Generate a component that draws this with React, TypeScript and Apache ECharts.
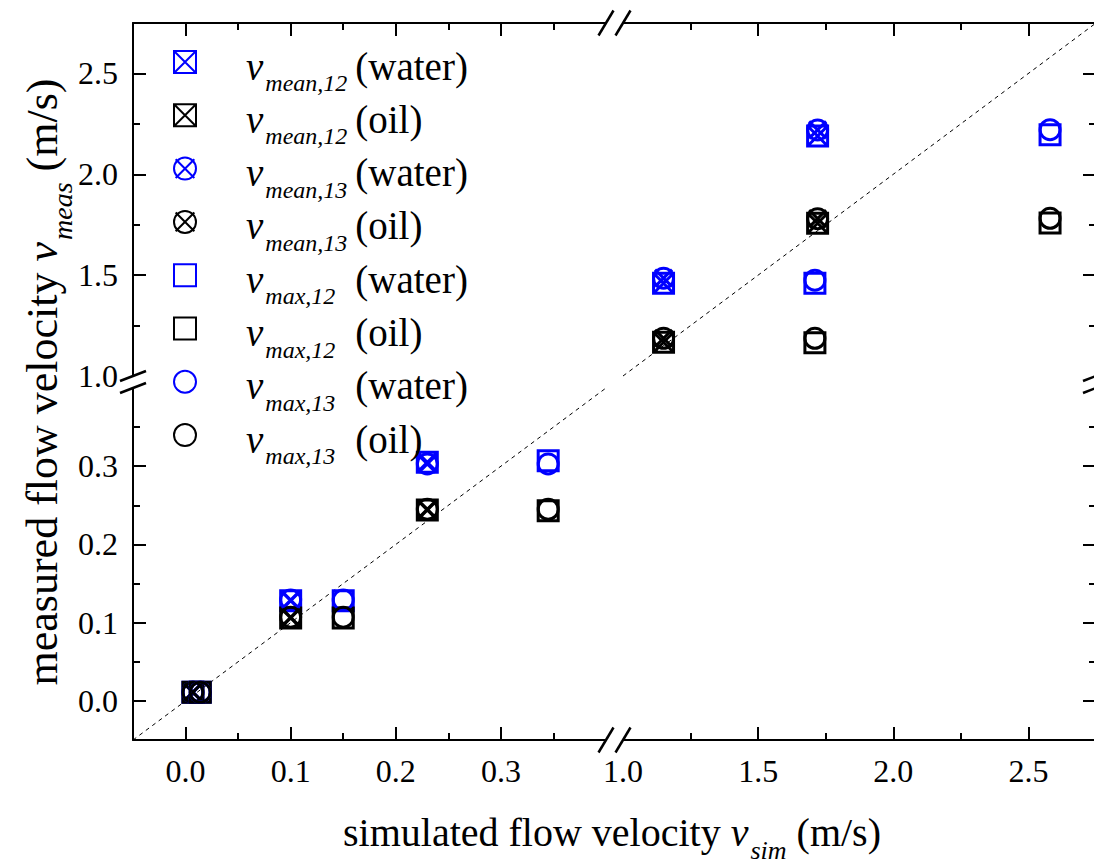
import React, { useEffect, useRef } from 'react';
import * as echarts from 'echarts';

// ---- data ----
const simMean = [0.007, 0.1, 0.23, 1.15, 1.72];
const simMax = [0.014, 0.15, 0.345, 1.71, 2.58];

const meanWater12 = [0.011, 0.128, 0.305, 1.46, 2.19];
const meanOil12 = [0.011, 0.106, 0.244, 1.167, 1.757];
const meanWater13 = [0.011, 0.129, 0.303, 1.485, 2.22];
const meanOil13 = [0.011, 0.107, 0.245, 1.187, 1.78];
const maxWater12 = [0.011, 0.128, 0.307, 1.46, 2.196];
const maxOil12 = [0.011, 0.106, 0.243, 1.165, 1.758];
const maxWater13 = [0.011, 0.129, 0.303, 1.475, 2.221];
const maxOil13 = [0.011, 0.107, 0.245, 1.187, 1.782];

const lowRange = [-0.05, 0.4];
const highRange = [1.0, 2.75];
const lowMajor = [0, 0.1, 0.2, 0.3];
const lowMinor = [0.05, 0.15, 0.25, 0.35];
const highMajorTicks = [1.5, 2.0, 2.5];
const highLabels = [1.0, 1.5, 2.0, 2.5];
const highMinor = [1.25, 1.75, 2.25];
const diagLow = [-0.05, 0.4162];
const diagHigh = [1.0, 2.75];

const BLUE = '#0000ff';
const BLACK = '#000000';
const FONT = 'Liberation Serif';

const SQX = 'path://M0,0L20,0L20,20L0,20Z M0,0L20,20 M20,0L0,20';
const CIRX = 'path://M10,0A10,10,0,1,1,10,20A10,10,0,1,1,10,0Z M1.5,1.5L18.5,18.5 M18.5,1.5L1.5,18.5';
const SQ = 'path://M0,0L20,0L20,20L0,20Z';
const CIR = 'path://M10,0A10,10,0,1,1,10,20A10,10,0,1,1,10,0Z';

const seriesDefs = [
  { name: 'vmean12water', sub: 'mean,12', tail: '(water)', color: BLUE, symbol: SQX, x: simMean, y: meanWater12 },
  { name: 'vmean12oil', sub: 'mean,12', tail: '(oil)', color: BLACK, symbol: SQX, x: simMean, y: meanOil12 },
  { name: 'vmean13water', sub: 'mean,13', tail: '(water)', color: BLUE, symbol: CIRX, x: simMean, y: meanWater13 },
  { name: 'vmean13oil', sub: 'mean,13', tail: '(oil)', color: BLACK, symbol: CIRX, x: simMean, y: meanOil13 },
  { name: 'vmax12water', sub: 'max,12', tail: '(water)', color: BLUE, symbol: SQ, x: simMax, y: maxWater12 },
  { name: 'vmax12oil', sub: 'max,12', tail: '(oil)', color: BLACK, symbol: SQ, x: simMax, y: maxOil12 },
  { name: 'vmax13water', sub: 'max,13', tail: '(water)', color: BLUE, symbol: CIR, x: simMax, y: maxWater13 },
  { name: 'vmax13oil', sub: 'max,13', tail: '(oil)', color: BLACK, symbol: CIR, x: simMax, y: maxOil13 },
];

const GRIDS = [
  { left: 133, top: 388, width: 473, height: 352, outerBoundsMode: 'none' }, // lower-left
  { left: 623, top: 388, width: 473, height: 352, outerBoundsMode: 'none' }, // lower-right
  { left: 133, top: 23, width: 473, height: 353, outerBoundsMode: 'none' }, // upper-left
  { left: 623, top: 23, width: 473, height: 353, outerBoundsMode: 'none' }, // upper-right
];

const fmt = (v: number) => Number(v).toFixed(1);

function axis(gridIndex: number, position: string, range: number[], ticks: number[], labels: number[] | null, minor: boolean) {
  const showLine = !minor && position !== 'right';
  return {
    type: 'value',
    gridIndex,
    position,
    min: range[0],
    max: range[1],
    scale: true,
    axisLine: { show: showLine, onZero: false, lineStyle: { color: BLACK, width: 2 } },
    axisTick: {
      show: true,
      inside: true,
      length: minor ? 7 : 13,
      customValues: ticks,
      lineStyle: { color: BLACK, width: 2 },
    },
    axisLabel: labels
      ? {
          show: true,
          customValues: labels,
          formatter: fmt,
          fontFamily: FONT,
          fontSize: 32,
          color: BLACK,
          margin: 15,
        }
      : { show: false },
    splitLine: { show: false },
    minorTick: { show: false },
  };
}

export default function App() {
  const ref = useRef<HTMLDivElement>(null);
  useEffect(() => {
    if (!ref.current) return;
    const chart = echarts.init(ref.current, null, { renderer: 'svg' });

    const xAxis = [
      axis(0, 'bottom', lowRange, lowMajor, lowMajor, false),
      axis(1, 'bottom', highRange, highMajorTicks, highLabels, false),
      axis(2, 'top', lowRange, lowMajor, null, false),
      axis(3, 'top', highRange, highMajorTicks, null, false),
      axis(4, 'bottom', lowRange, lowMinor, null, true),
      axis(5, 'bottom', highRange, highMinor, null, true),
      axis(6, 'top', lowRange, lowMinor, null, true),
      axis(7, 'top', highRange, highMinor, null, true),
    ];
    const yAxis = [
      axis(0, 'left', lowRange, lowMajor, lowMajor, false),
      axis(1, 'right', lowRange, lowMajor, null, false),
      axis(2, 'left', highRange, highMajorTicks, highLabels, false),
      axis(3, 'right', highRange, highMajorTicks, null, false),
      axis(4, 'left', lowRange, lowMinor, null, true),
      axis(5, 'right', lowRange, lowMinor, null, true),
      axis(6, 'left', highRange, highMinor, null, true),
      axis(7, 'right', highRange, highMinor, null, true),
    ];

    const series: any[] = [
      {
        type: 'line',
        xAxisIndex: 0,
        yAxisIndex: 0,
        data: diagLow.map((v) => [v, v]),
        symbol: 'none',
        clip: false,
        silent: true,
        z: 1,
        lineStyle: { color: BLACK, width: 1, type: [4, 4] },
      },
      {
        type: 'line',
        xAxisIndex: 3,
        yAxisIndex: 3,
        data: diagHigh.map((v) => [v, v]),
        symbol: 'none',
        clip: false,
        silent: true,
        z: 1,
        lineStyle: { color: BLACK, width: 1, type: [4, 4] },
      },
    ];
    seriesDefs.forEach((d) => {
      const pts = d.x.map((xv, i) => [xv, d.y[i]]);
      const common = {
        type: 'scatter',
        name: d.name,
        symbol: d.symbol,
        symbolSize: 20,
        clip: false,
        z: 3,
        itemStyle: { color: 'rgba(0,0,0,0)', borderColor: d.color, borderWidth: 3, opacity: 1 },
      };
      series.push({ ...common, xAxisIndex: 0, yAxisIndex: 0, data: pts.filter((p) => p[0] < 1) });
      series.push({ ...common, xAxisIndex: 3, yAxisIndex: 3, data: pts.filter((p) => p[0] >= 1) });
    });

    const lookup: Record<string, any> = {};
    seriesDefs.forEach((d) => (lookup[d.name] = d));

    const slashes: any[] = [];
    [133, 1096].forEach((x) =>
      [376, 388].forEach((y) =>
        slashes.push({
          type: 'line',
          shape: { x1: x - 13, y1: y + 5, x2: x + 13, y2: y - 5 },
          style: { stroke: BLACK, lineWidth: 2.5 },
          z: 10,
        })
      )
    );
    [740, 23].forEach((y) =>
      [606, 623].forEach((x) =>
        slashes.push({
          type: 'line',
          shape: { x1: x - 7.5, y1: y + 12.5, x2: x + 7.5, y2: y - 12.5 },
          style: { stroke: BLACK, lineWidth: 2.5 },
          z: 10,
        })
      )
    );

    const xTitleRich = {
      a: { fontFamily: FONT, fontSize: 40, lineHeight: 44, color: BLACK },
      v: { fontFamily: FONT, fontSize: 40, fontStyle: 'italic', lineHeight: 44, color: BLACK },
      s: { fontFamily: FONT, fontSize: 26, fontStyle: 'italic', lineHeight: 26, padding: [36, 0, 0, 2], color: BLACK },
    };
    const yTitleRich = {
      a: { fontFamily: FONT, fontSize: 44, lineHeight: 46, color: BLACK },
      v: { fontFamily: FONT, fontSize: 44, fontStyle: 'italic', lineHeight: 46, color: BLACK },
      s: { fontFamily: FONT, fontSize: 28, fontStyle: 'italic', lineHeight: 28, padding: [40, 0, 0, 2], color: BLACK },
    };

    chart.setOption({
      animation: false,
      backgroundColor: '#ffffff',
      grid: [...GRIDS, ...GRIDS],
      xAxis,
      yAxis,
      legend: {
        data: seriesDefs.map((d) => d.name),
        orient: 'vertical',
        left: 173,
        top: 29,
        padding: 0,
        itemGap: -12.7,
        itemWidth: 22,
        itemHeight: 22,
        selectedMode: false,
        formatter: (name: string) => {
          const d = lookup[name];
          return `{v|v}{s|${d.sub}}{t|${d.tail}}`;
        },
        textStyle: {
          color: BLACK,
          rich: {
            v: { fontFamily: FONT, fontStyle: 'italic', fontSize: 39, lineHeight: 40, padding: [8, 0, 0, 45], color: BLACK },
            s: { fontFamily: FONT, fontStyle: 'italic', fontSize: 24, lineHeight: 24, padding: [42, 0, 0, 2], width: 90, color: BLACK },
            t: { fontFamily: FONT, fontSize: 39, lineHeight: 40, padding: [8, 0, 0, 0], color: BLACK },
          },
        },
      },
      graphic: [
        ...slashes,
        {
          type: 'text',
          x: 612,
          y: 832,
          style: {
            text: '{a|simulated flow velocity }{v|v}{s|sim}{a| (m/s)}',
            rich: xTitleRich,
            align: 'center',
            verticalAlign: 'middle',
          },
        },
        {
          type: 'text',
          x: 42,
          y: 382,
          rotation: Math.PI / 2,
          style: {
            text: '{a|measured flow velocity }{v|v}{s|meas}{a| (m/s)}',
            rich: yTitleRich,
            align: 'center',
            verticalAlign: 'middle',
          },
        },
      ],
      series,
    });
    return () => chart.dispose();
  }, []);
  return <div ref={ref} style={{ position: 'absolute', left: 0, top: 0, width: 1094, height: 863 }} />;
}
